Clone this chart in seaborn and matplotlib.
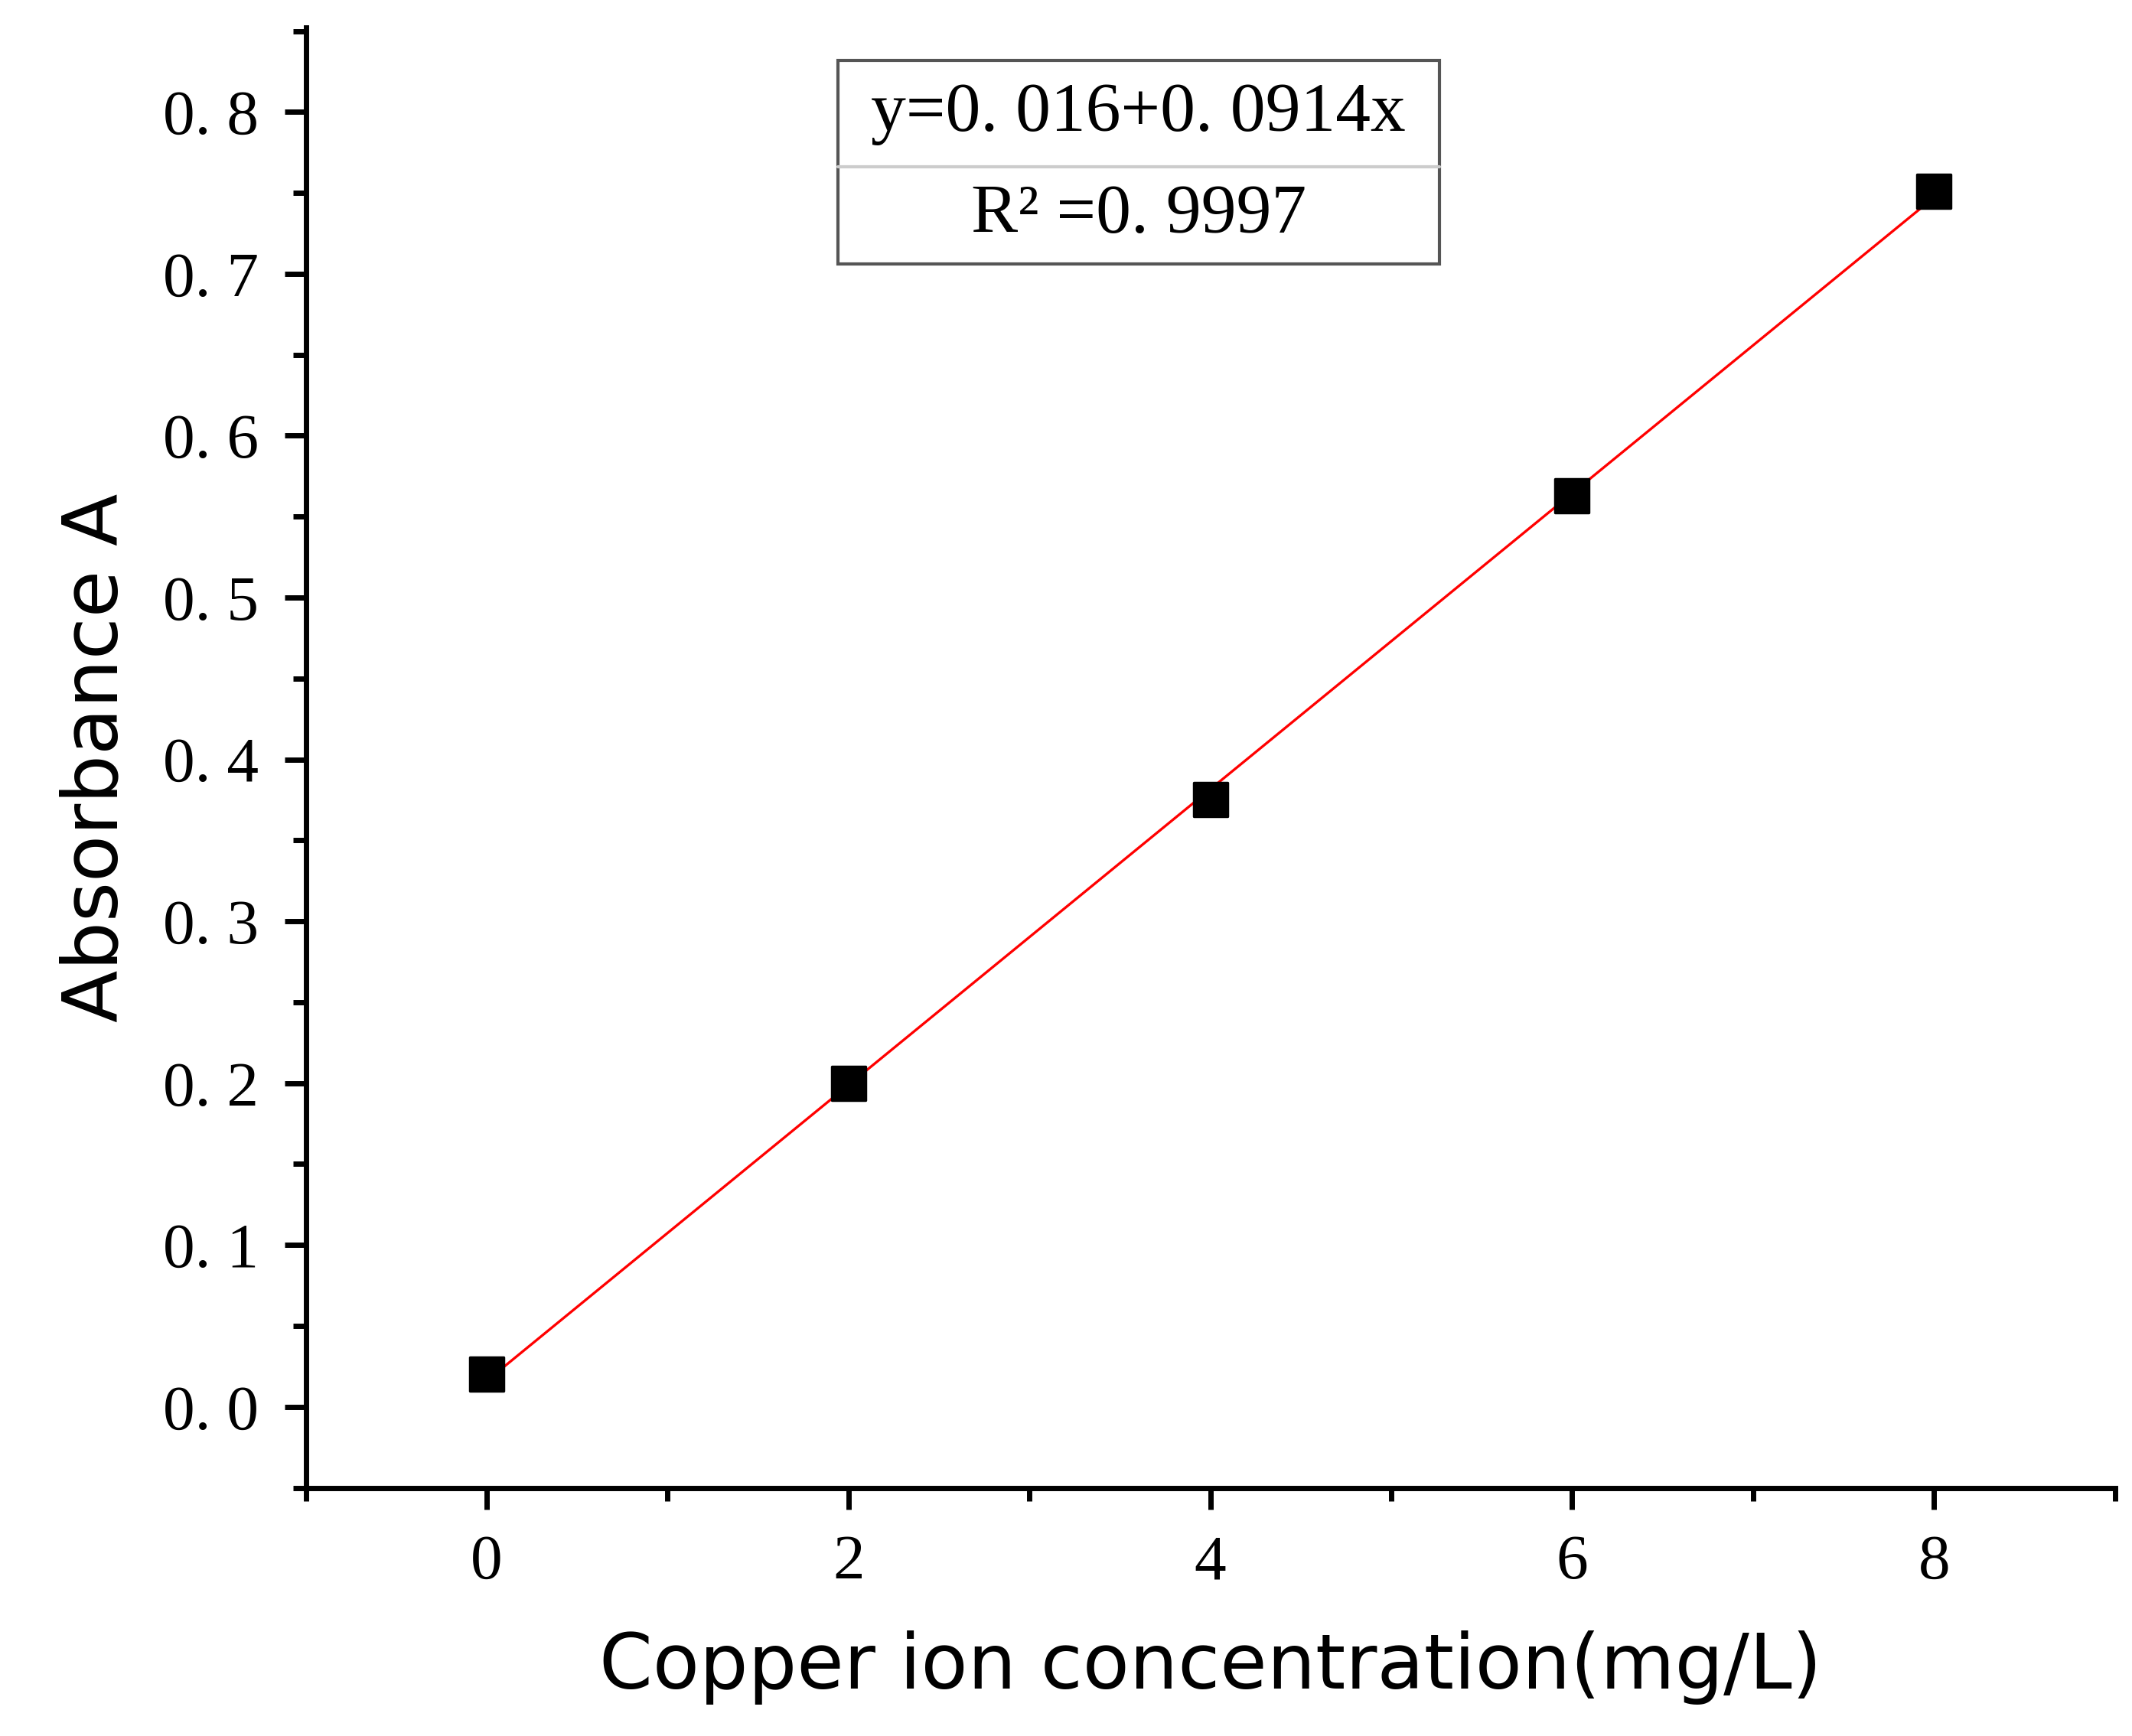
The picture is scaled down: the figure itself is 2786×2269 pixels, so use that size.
import matplotlib
matplotlib.use("Agg")
import matplotlib.pyplot as plt
import seaborn as sns
import numpy as np
from matplotlib.ticker import MultipleLocator, FuncFormatter

conc = [0, 2, 4, 6, 8]
absorb = [0.020, 0.200, 0.375, 0.563, 0.751]
intercept = 0.016
slope = 0.0914

sns.set_style("ticks", {'axes.edgecolor': 'black', 'xtick.color': 'black', 'ytick.color': 'black',
                        'text.color': 'black', 'axes.labelcolor': 'black'})
plt.rcParams['font.family'] = ['DejaVu Sans']

fig = plt.figure(figsize=(13.93, 11.345), dpi=200)
ax = fig.add_axes([0.1434, 0.143, 0.8486, 0.841])

fx = np.array([0, 8])
sns.lineplot(x=fx, y=intercept + slope * fx, color='red', lw=1.2, ax=ax)
sns.scatterplot(x=conc, y=absorb, marker='s', s=240, color='black', edgecolor='black', ax=ax, zorder=3)

ax.set_xlim(-1, 9)
ax.set_ylim(-0.05, 0.852)
ax.xaxis.set_major_locator(MultipleLocator(2))
ax.xaxis.set_minor_locator(MultipleLocator(1))
ax.yaxis.set_major_locator(MultipleLocator(0.1))
ax.yaxis.set_minor_locator(MultipleLocator(0.05))
ax.yaxis.set_major_formatter(FuncFormatter(lambda v, p: f"{v:.1f}".replace('.', '. ')))
sns.despine(ax=ax)
for s in ['left', 'bottom']:
    ax.spines[s].set_linewidth(2.5)
ax.tick_params(which='major', direction='out', length=10, width=2.5, labelsize=30, pad=12)
ax.tick_params(which='minor', direction='out', length=6, width=2.5)
for lab in ax.get_xticklabels() + ax.get_yticklabels():
    lab.set_fontfamily('Liberation Serif')
ax.set_xlabel('Copper ion concentration(mg/L)', fontsize=36, labelpad=18)
ax.set_ylabel('Absorbance A', fontsize=36, labelpad=14)

# equation box
bx0, bx1, by0, by1, bmid = 0.393, 0.675, 0.848, 0.965, 0.904
fig.patches.append(plt.Rectangle((bx0, by0), bx1 - bx0, by1 - by0, transform=fig.transFigure,
                                 fill=False, edgecolor='#555555', lw=1.5))
fig.lines.append(plt.Line2D([bx0, bx1], [bmid, bmid], transform=fig.transFigure, color='#cccccc', lw=1.5))
fig.text((bx0 + bx1) / 2, (by1 + bmid) / 2, 'y=0. 016+0. 0914x', ha='center', va='center',
         fontsize=33, family='Liberation Serif', color='black')
fig.text((bx0 + bx1) / 2, (bmid + by0) / 2, 'R² =0. 9997', ha='center', va='center',
         fontsize=33, family='Liberation Serif', color='black')

fig.savefig('out.png', dpi=200)
